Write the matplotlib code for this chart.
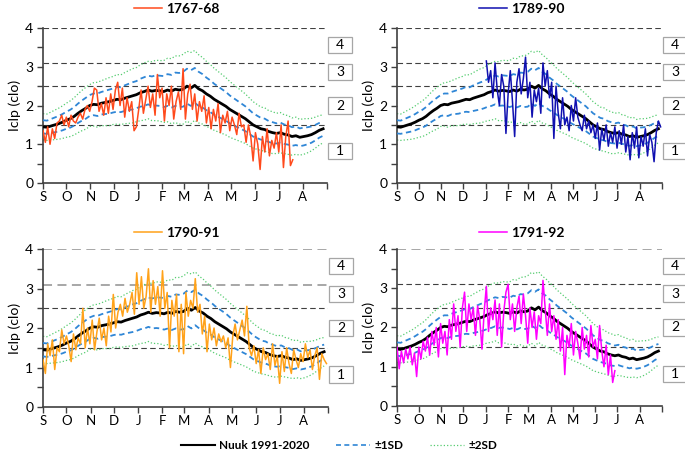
import numpy as np
import matplotlib
matplotlib.use("Agg")
import matplotlib.pyplot as plt
from matplotlib.patches import Rectangle
from matplotlib.lines import Line2D
import matplotlib.transforms as mtransforms

plt.rcParams['font.family'] = ['Lato', 'DejaVu Sans']

# month labels and first day of each month (day 0 = 1 September)
months = ['S', 'O', 'N', 'D', 'J', 'F', 'M', 'A', 'M', 'J', 'J', 'A']
month_start = [0, 30, 61, 91, 122, 153, 181, 212, 242, 273, 303, 334, 365]

# Nuuk 1991-2020 climatology, every 5 days
nuuk_mean = [1.45, 1.44, 1.47, 1.50, 1.53, 1.57,
             1.62, 1.66, 1.72, 1.80, 1.87, 1.93,
             2.00, 2.03, 2.02, 2.06, 2.08, 2.10,
             2.13, 2.16, 2.15, 2.19, 2.22, 2.25,
             2.28, 2.33, 2.36, 2.40, 2.37, 2.39,
             2.38, 2.36, 2.40, 2.37, 2.42, 2.40,
             2.42, 2.50, 2.45, 2.52, 2.43, 2.38,
             2.30, 2.24, 2.16, 2.10, 2.04, 1.98,
             1.90, 1.84, 1.78, 1.72, 1.66, 1.58,
             1.50, 1.45, 1.40, 1.38, 1.33, 1.30,
             1.28, 1.30, 1.26, 1.24, 1.20, 1.22,
             1.18, 1.20, 1.22, 1.25, 1.30, 1.36, 1.40]
nuuk_sd = [0.17, 0.17, 0.18, 0.19, 0.20, 0.21,
           0.22, 0.23, 0.24, 0.25, 0.26, 0.27,
           0.27, 0.28, 0.29, 0.29, 0.30, 0.31,
           0.31, 0.32, 0.32, 0.33, 0.34, 0.35,
           0.35, 0.36, 0.37, 0.37, 0.38, 0.39,
           0.39, 0.40, 0.41, 0.42, 0.43, 0.44,
           0.45, 0.45, 0.46, 0.45, 0.44, 0.43,
           0.42, 0.41, 0.40, 0.39, 0.38, 0.37,
           0.36, 0.35, 0.34, 0.33, 0.32, 0.31,
           0.30, 0.29, 0.28, 0.28, 0.27, 0.27,
           0.26, 0.26, 0.25, 0.25, 0.24, 0.24,
           0.23, 0.23, 0.22, 0.21, 0.20, 0.19, 0.18]

# historical series, every 3 days
y1767 = [1.35, 1.05, 1.45, 1.0, 1.4, 1.15, 1.55, 1.6, 1.75, 1.5,
         1.7, 1.45, 1.75, 1.6, 1.55, 1.7, 1.8, 1.65, 1.9, 2.0,
         1.85, 2.1, 2.45, 2.4, 1.85, 2.05, 1.75, 2.2, 1.8, 2.3,
         1.9, 2.4, 2.6, 2.0, 2.45, 1.7, 2.2, 1.85, 2.1, 1.35, 1.45,
         1.9, 2.4, 1.8, 2.15, 2.5, 1.95, 2.3, 1.75, 2.8, 2.2,
         2.45, 1.6, 2.3, 2.0, 2.5, 1.65, 2.1, 2.35, 1.9, 2.95,
         1.65, 2.3, 2.55, 1.9, 2.3, 1.6, 2.1, 1.85, 2.25, 1.55,
         1.95, 1.4, 1.9, 1.6, 2.05, 1.3, 1.75, 1.55, 1.85, 1.35,
         1.7, 1.5, 1.25, 1.8, 1.45, 1.5, 1.05, 1.5, 1.2, 0.57,
         1.3, 1.0, 0.35, 1.2, 0.8, 1.4, 0.7, 1.1, 0.9, 1.3,
         0.8, 1.5, 0.4, 1.2, 1.6, 0.45, 0.6]
y1789 = [3.15, 2.6, 2.9, 2.2, 3.1, 2.4, 2.0, 2.8, 2.5, 1.28,
         2.3, 2.9, 2.1, 1.2, 2.6, 2.95, 2.3, 2.7, 3.25, 2.2,
         2.6, 1.7, 2.4, 2.1, 2.45, 1.8, 3.1, 2.5, 2.9, 2.2,
         2.6, 1.15, 2.5, 1.8, 1.4, 2.2, 1.5, 1.7, 1.35, 2.0,
         1.6, 2.2, 1.7, 1.5, 1.35, 1.75, 1.4, 1.6, 1.3, 1.5,
         1.15, 1.55, 0.85, 1.4, 1.1, 1.5, 0.95, 1.3, 1.05, 1.45,
         0.9, 1.35, 1.0, 1.5, 0.8, 1.2, 0.6, 1.3, 0.9, 1.45,
         0.65, 1.2, 0.95, 1.4, 0.7, 1.25, 1.05, 0.55, 1.3, 1.6, 1.45]
y1790 = [1.2, 0.85, 1.6, 1.3, 1.7, 0.95, 1.5, 1.4, 1.95, 1.6,
         1.8, 1.55, 1.15, 1.85, 1.45, 1.75, 1.6, 2.5, 1.5, 2.0,
         1.6, 2.2, 1.45, 1.9, 2.25, 1.7, 2.0, 1.55, 2.3, 1.9,
         2.85, 2.0, 2.4, 2.6, 2.3, 2.75, 2.4, 2.6, 2.9, 2.35, 3.4,
         2.6, 3.3, 2.5, 2.8, 3.5, 2.4, 3.2, 2.6, 3.05, 2.3,
         3.45, 2.5, 2.9, 1.5, 2.7, 2.3, 2.85, 1.4, 2.6, 1.35,
         2.9, 2.3, 2.7, 2.5, 3.25, 2.4, 2.6, 1.85, 2.3, 1.4,
         2.1, 1.7, 2.0, 1.55, 1.85, 1.65, 1.8, 1.5, 1.75, 1.0,
         1.8, 2.1, 1.7, 1.95, 2.2, 1.8, 2.55, 1.5, 1.3, 1.55,
         1.1, 1.45, 0.85, 1.5, 1.2, 1.35, 0.95, 1.6, 1.05, 1.3,
         0.6, 1.4, 0.9, 1.5, 1.1, 0.85, 1.45, 1.2, 1.0, 1.35,
         1.15, 1.6, 1.25, 1.45, 0.95, 1.3, 1.5, 0.7, 1.35, 1.2, 1.1]
y1791 = [1.5, 0.95, 1.4, 1.1, 1.45, 1.2, 1.5, 1.05, 1.35, 0.75,
         1.5, 1.2, 1.65, 1.4, 1.75, 1.3, 1.9, 1.55, 2.0, 1.25,
         2.1, 1.6, 1.9, 1.3, 2.2, 1.7, 2.6, 1.9, 2.3, 1.5,
         2.5, 2.9, 1.9, 2.6, 2.2, 2.5, 1.8, 2.55, 2.2, 1.45, 2.4,
         3.05, 1.9, 2.5, 2.2, 2.7, 1.8, 2.6, 1.5, 2.4, 2.9,
         3.1, 2.2, 2.6, 1.9, 2.5, 2.8, 2.1, 2.85, 2.3, 1.6,
         2.5, 2.0, 2.4, 1.7, 2.3, 2.1, 3.2, 2.5, 1.8, 2.6,
         1.9, 2.3, 1.7, 2.2, 1.4, 2.0, 0.8, 1.8, 1.5, 2.1,
         1.3, 1.9, 1.6, 1.2, 2.0, 1.45, 1.8, 1.25, 2.05, 1.5,
         1.7, 1.2, 2.05, 1.4, 1.0, 1.55, 0.8, 1.3, 0.6, 0.9]

series = [('1767-68', y1767, 0, '#ff4a1c'),
          ('1789-90', y1789, 123, '#1010b0'),
          ('1790-91', y1790, 0, '#ffa21a'),
          ('1791-92', y1791, 0, '#ff00ff')]

# clothing classes: thresholds and label heights
class_lines = [1.5, 2.5, 3.1, 4.0]
class_labels = ['1', '2', '3', '4']
class_label_y = [0.82, 2.0, 2.86, 3.57]

clim_day = np.arange(0, 365, 5)
m = np.array(nuuk_mean)
sd = np.array(nuuk_sd)

fig = plt.figure(figsize=(6.85, 4.61), dpi=100)
rects = [[0.0628, 0.603, 0.4146, 0.3362],
         [0.5796, 0.603, 0.3869, 0.3362],
         [0.0628, 0.1171, 0.4161, 0.3427],
         [0.5796, 0.1193, 0.3869, 0.3406]]
title_y = [1.125, 1.125, 1.10, 1.10]

for i, (name, vals, start, col) in enumerate(series):
    ax = fig.add_axes(rects[i])
    for j, h in enumerate(class_lines):
        c, lw = '#404040', 0.8
        if (i == 2 and h >= 3.1) or (i == 3 and h == 4.0):
            c, lw = '#a0a0a0', 1.3
        ax.axhline(h, color=c, lw=lw, ls=(0, (5, 3)), zorder=1)
    ax.plot(clim_day, m + 2 * sd, color='#55cc70', lw=0.9, ls=':', zorder=2)
    ax.plot(clim_day, m - 2 * sd, color='#55cc70', lw=0.9, ls=':', zorder=2)
    ax.plot(clim_day, m + sd, color='#2f86d6', lw=1.3, ls=(0, (3, 2)), zorder=3)
    ax.plot(clim_day, m - sd, color='#2f86d6', lw=1.3, ls=(0, (3, 2)), zorder=3)
    ax.plot(clim_day, m, color='black', lw=2.0, zorder=4)
    days = start + 3 * np.arange(len(vals))
    ln, = ax.plot(days, vals, color=col, lw=1.1, zorder=5)

    ax.set_xlim(0, 365)
    ax.set_ylim(0, 4)
    ax.set_xticks(month_start)
    ax.set_xticklabels(months + [''], fontsize=9.5)
    ax.tick_params(axis='x', direction='out', length=4, width=1, color='#404040', pad=2)
    ax.set_yticks([0, 1, 2, 3, 4])
    ax.set_yticks([0.5, 1.5, 2.5, 3.5], minor=True)
    ax.tick_params(axis='y', which='both', direction='out', length=4, width=1,
                   color='#404040', labelsize=10, pad=3)
    ax.set_ylabel('Iclp (clo)', fontsize=10.2, labelpad=3)
    for s in ['top', 'right']:
        ax.spines[s].set_visible(False)
    for s in ['left', 'bottom']:
        ax.spines[s].set_color('#404040')
        ax.spines[s].set_linewidth(1.2)

    tr = mtransforms.blended_transform_factory(ax.transAxes, ax.transData)
    bw = 24.0 / (rects[i][2] * 685)
    for lab, yc in zip(class_labels, class_label_y):
        ax.add_patch(Rectangle((1.004, yc - 0.21), bw, 0.42, transform=tr,
                               fc='white', ec='#a6a6a6', lw=0.9, clip_on=False))
        ax.text(1.004 + bw / 2, yc, lab, transform=tr, ha='center', va='center',
                fontsize=10)

    ax.legend([ln], [name], loc='center', bbox_to_anchor=(0.47, title_y[i]),
              frameon=False, handlelength=2.0, handletextpad=0.3, borderpad=0,
              prop={'weight': 'bold', 'size': 10})

handles = [Line2D([], [], color='black', lw=1.5),
           Line2D([], [], color='#2f86d6', lw=1.2, ls=(0, (3, 2))),
           Line2D([], [], color='#55cc70', lw=0.9, ls=':')]
fig.legend(handles, ['Nuuk 1991-2020', '±1SD', '±2SD'], loc='center',
           bbox_to_anchor=(0.495, 0.033), ncol=3, frameon=False, handlelength=2.9,
           columnspacing=2.2, handletextpad=0.4, prop={'weight': 'bold', 'size': 8.5})

fig.savefig('out.png', dpi=100)
